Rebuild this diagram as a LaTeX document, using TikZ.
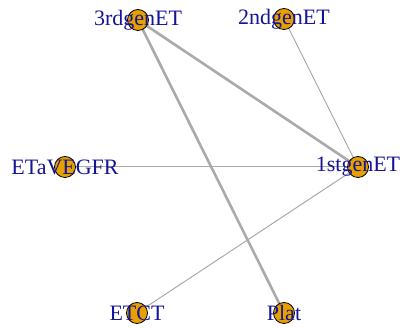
\documentclass[tikz,border=0pt]{standalone}
\usepackage{fontspec}
\setmainfont{Liberation Serif}
\usepackage{xcolor}
\usetikzlibrary{backgrounds}
\definecolor{vfill}{RGB}{230,160,0}
\definecolor{vtext}{RGB}{20,20,150}
\definecolor{ecol}{RGB}{170,170,170}

\begin{document}
\begin{tikzpicture}[x=1pt,y=-1pt]
    \tikzstyle{every node}=[font=\fontsize{22}{22}\selectfont]
    \tikzstyle{drug}=[circle,draw=black,line width=0.8pt,fill=vfill,minimum size=21pt,inner sep=0pt]
    \tikzstyle{lab}=[text=vtext,inner sep=0pt]
    \tikzstyle{thinedge}=[draw=ecol,line width=1pt]
    \tikzstyle{thickedge}=[draw=ecol,line width=2.6pt]

    \useasboundingbox (0,0) rectangle (400,328);

    \node[drug,label={[lab]center:3rdgenET}] (third)  at (138,20)  {};
    \node[drug,label={[lab]center:2ndgenET}] (second) at (284,19)  {};
    \node[drug,label={[lab]center:1stgenET}] (first)  at (358,167) {};
    \node[drug,label={[lab]center:ETaVEGFR}] (etavegfr) at (65,167) {};
    \node[drug,label={[lab]center:ETCT}]     (etct)   at (137,313) {};
    \node[drug,label={[lab]center:Plat}]     (plat)   at (284,313) {};

    \begin{scope}[on background layer]
      \draw[thickedge] (third.center) -- (first.center) ;
      \draw[thickedge] (third.center) -- (plat.center) ;
      \draw[thinedge] (second.center) -- (first.center) ;
      \draw[thinedge] (etavegfr.center) -- (first.center) ;
      \draw[thinedge] (etct.center) -- (first.center) ;
    \end{scope}

\end{tikzpicture}
\end{document}
